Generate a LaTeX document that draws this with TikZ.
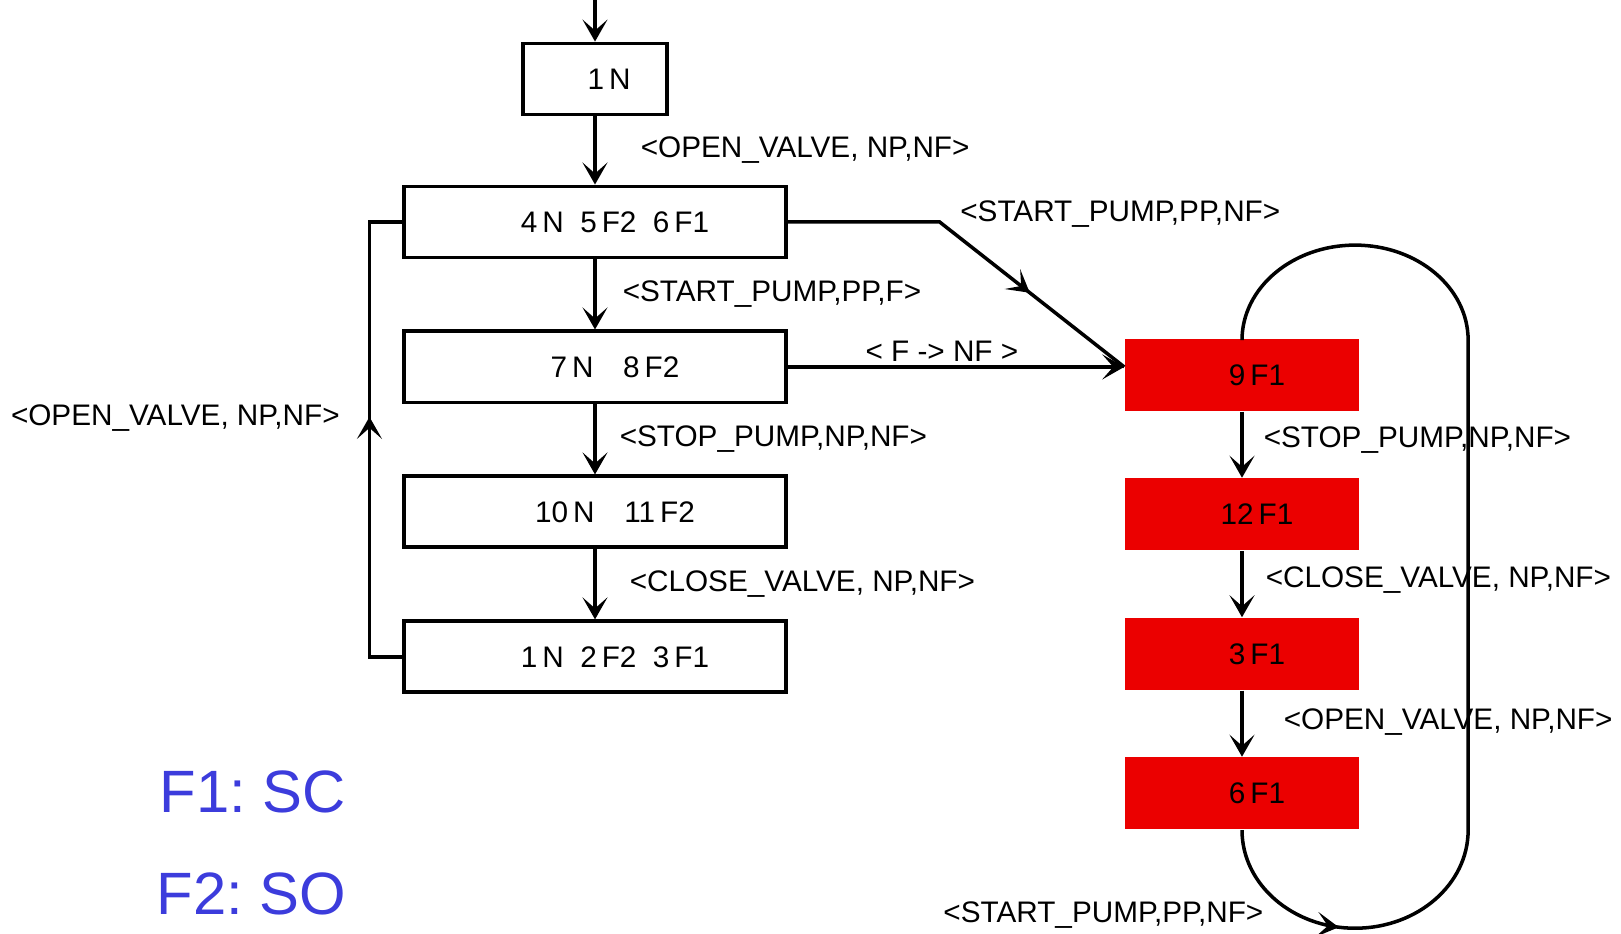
\documentclass[tikz,border=0pt]{standalone}
\usepackage{fontspec}
\setmainfont{Liberation Sans}
\usetikzlibrary{arrows.meta, positioning, calc, decorations.markings}
\definecolor{faultred}{RGB}{235,0,0}
\definecolor{legendblue}{RGB}{60,60,220}

\begin{document}
\begin{tikzpicture}[
  x=0.01cm, y=0.01cm,
  font=\fontsize{8.45}{10}\selectfont, >={Stealth[length=2.2mm, width=2.5mm, inset=1.1mm]},
  box/.style={draw, line width=1.1pt, minimum width=3.81cm, minimum height=0.71cm,
              inner sep=0pt, execute at begin node={\hspace*{4mm}}},
  startbox/.style={draw, line width=1.1pt, minimum width=1.44cm, minimum height=0.71cm,
                   inner sep=0pt, execute at begin node={\hspace*{2.8mm}}},
  faultbox/.style={fill=faultred, minimum width=2.34cm, minimum height=0.72cm,
                   inner sep=0pt, execute at begin node={\hspace*{3mm}}},
  link/.style={line width=1pt},
  lbl/.style={inner sep=0pt, anchor=west},
  midarrow/.style={postaction={decorate},
                   decoration={markings, mark=at position #1 with {\arrow{>}}}},
  legend/.style={text=legendblue, font=\fontsize{17}{20}\selectfont, inner sep=0pt, anchor=west}
]
\useasboundingbox (0,0) rectangle (1621,934);

% normal / degraded states
\node[box] (s1) at (595,712) {4\,N\ \ 5\,F2\ \ 6\,F1};
\node[startbox, above=0.68cm of s1] (s0) {1\,N};
\node[box, below=0.70cm of s1] (s2) {7\,N\quad 8\,F2};
\node[box, below=0.70cm of s2] (s3) {10\,N\quad 11\,F2};
\node[box, below=0.70cm of s3] (s4) {1\,N\ \ 2\,F2\ \ 3\,F1};

% failure states
\node[faultbox] (f9) at (1242,559) {9\,F1};
\node[faultbox, below=0.66cm of f9] (f12) {12\,F1};
\node[faultbox, below=0.66cm of f12] (f3) {3\,F1};
\node[faultbox, below=0.66cm of f3] (f6) {6\,F1};

\coordinate (entry) at ([yshift=0.47cm]s0.north);
\coordinate[right=1.52cm of s1.east] (bend);
\coordinate (hit) at (s2.east -| f9.west);

\draw[link, ->] (entry) -- (s0);
\draw[link, ->] (s0) -- node[lbl, xshift=4.4mm] {<OPEN\_VALVE, NP,NF>} (s1);
\draw[link, ->] (s1) -- node[lbl, xshift=2.6mm] {<START\_PUMP,PP,F>} (s2);
\draw[link, ->] (s2) -- node[lbl, xshift=2.3mm] {<STOP\_PUMP,NP,NF>} (s3);
\draw[link, ->] (s3) -- node[lbl, xshift=3.3mm] {<CLOSE\_VALVE, NP,NF>} (s4);
\draw[link, midarrow=0.545] (s4.west) -- ++(-33,0)
  |- node[lbl, anchor=east, pos=0.275, xshift=-2.8mm] {<OPEN\_VALVE, NP,NF>} (s1.west);

\draw[link, midarrow=0.69] (s1.east) -- (bend) -- (hit);
\node[lbl, xshift=2mm, yshift=0.8mm] (lblpp) at (bend) {<START\_PUMP,PP,NF>};
\draw[link, ->] (s2.east) -- node[lbl, anchor=south, inner sep=1pt, xshift=-1.4mm] {< F -> NF >} (hit);

\draw[link, ->] (f9) -- node[lbl, xshift=2mm, yshift=0.5mm] {<STOP\_PUMP,NP,NF>} (f12);
\draw[link, ->] (f12) -- node[lbl, xshift=2.2mm, yshift=0.4mm] {<CLOSE\_VALVE, NP,NF>} (f3);
\draw[link, ->] (f3) -- node[lbl, xshift=4mm, yshift=0.2mm] {<OPEN\_VALVE, NP,NF>} (f6);

% loop back to 9 F1
\draw[link, midarrow=0.13] (f6.south)
  arc[start angle=180, end angle=360, x radius=1.13cm, y radius=0.98cm] -- ++(0,490)
  arc[start angle=0, end angle=180, x radius=1.13cm, y radius=0.95cm] -- (f9.north);
\node[lbl, anchor=east] (lblloop) at ($(f6.south)+(22,-85)$) {<START\_PUMP,PP,NF>};

\node[legend] (key1) at (159,142) {F1:\ SC};
\node[legend] (key2) at (156,40) {F2:\ SO};
\end{tikzpicture}
\end{document}
